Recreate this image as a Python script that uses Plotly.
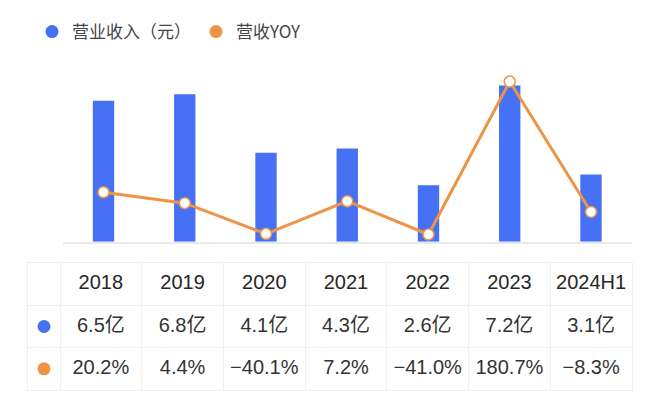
import plotly.graph_objects as go

categories = ["2018", "2019", "2020", "2021", "2022", "2023", "2024H1"]
revenue = [6.5, 6.8, 4.1, 4.3, 2.6, 7.2, 3.1]          # 亿元
yoy = [20.2, 4.4, -40.1, 7.2, -41.0, 180.7, -8.3]        # %
revenue_labels = ["6.5亿", "6.8亿", "4.1亿", "4.3亿", "2.6亿", "7.2亿", "3.1亿"]
yoy_labels = ["20.2%", "4.4%", "−40.1%", "7.2%", "−41.0%", "180.7%", "−8.3%"]
series_names = ["营业收入（元）", "营收YOY"]

BLUE = "#4771F5"
ORANGE = "#EE9447"
TEXT = "#333333"
GRID = "#f0f0f0"
FONT = "Liberation Sans, Noto Sans CJK SC"
CJK = "Noto Sans CJK SC"
OFF = 8                      # page body margin
W, H = 660 - OFF, 410 - OFF


def px_x(v):
    return (v - OFF) / W


def px_y(v):
    return 1 - (v - OFF) / H


fig = go.Figure()

# ---- chart ----
fig.add_trace(go.Bar(
    x=categories, y=revenue, marker=dict(color=BLUE, line=dict(width=0)),
    showlegend=False, xaxis="x", yaxis="y", hoverinfo="skip",
))
fig.add_trace(go.Scatter(
    x=categories, y=yoy, mode="lines+markers", xaxis="x", yaxis="y2",
    line=dict(color=ORANGE, width=3),
    marker=dict(size=11, color="white", line=dict(color=ORANGE, width=1.5)),
    showlegend=False, hoverinfo="skip",
))
# legend entries (circle symbols)
for name, col in zip(series_names, [BLUE, ORANGE]):
    fig.add_trace(go.Scatter(
        x=[None], y=[None], mode="markers", name=name,
        marker=dict(size=13, color=col), showlegend=True,
    ))

# ---- table (drawn on its own axes: columns = category index, rows = 0..2) ----
n = len(categories)
col_idx = list(range(n))
dot_col_w = 32 / 81.7            # narrow first column, in column units
dot_x = -0.5 - dot_col_w / 2

fig.add_trace(go.Scatter(
    x=col_idx, y=[0] * n, text=categories, mode="text", xaxis="x2", yaxis="y3",
    textposition="middle center", textfont=dict(family=FONT, size=20, color="#262626"),
    showlegend=False, hoverinfo="skip",
))
fig.add_trace(go.Scatter(
    x=col_idx, y=[1] * n, text=revenue_labels, mode="text", xaxis="x2", yaxis="y3",
    textposition="middle center", textfont=dict(family=FONT, size=20, color=TEXT),
    showlegend=False, hoverinfo="skip",
))
fig.add_trace(go.Scatter(
    x=col_idx, y=[2] * n, text=yoy_labels, mode="text", xaxis="x2", yaxis="y3",
    textposition="middle center", textfont=dict(family=FONT, size=20, color=TEXT),
    showlegend=False, hoverinfo="skip",
))
fig.add_trace(go.Scatter(
    x=[dot_x, dot_x], y=[1, 2], mode="markers", xaxis="x2", yaxis="y3",
    marker=dict(size=13, color=[BLUE, ORANGE]),
    showlegend=False, hoverinfo="skip",
))

y_top_px = 70
base_px = 241.7
px_per_rev = 21.7
zero2_px = 206.2
px_per_pct = 0.69

fig.update_layout(
    width=W, height=H,
    margin=dict(l=0, r=0, t=0, b=0),
    paper_bgcolor="white", plot_bgcolor="white",
    font=dict(family=FONT, color=TEXT),
    bargap=0.737,
    xaxis=dict(
        domain=[px_x(62.9), px_x(631.6)], type="category",
        range=[-0.5, 6.5], showticklabels=False, showgrid=False,
        showline=True, linecolor="#e9e9e9", linewidth=1.5, zeroline=False,
        ticks="", anchor="y",
    ),
    yaxis=dict(
        domain=[px_y(base_px), px_y(y_top_px)],
        range=[0, (base_px - y_top_px) / px_per_rev],
        visible=False, showgrid=False, zeroline=False,
    ),
    yaxis2=dict(
        overlaying="y", side="right",
        range=[-(base_px - zero2_px) / px_per_pct, (zero2_px - y_top_px) / px_per_pct],
        visible=False, showgrid=False, zeroline=False,
    ),
    xaxis2=dict(
        domain=[px_x(28), px_x(632)], anchor="y3",
        range=[-0.5 - dot_col_w, n - 0.5],
        tickvals=[i - 0.5 for i in range(n)], showticklabels=False, ticks="",
        showgrid=True, gridcolor=GRID, gridwidth=1,
        showline=True, mirror=True, linecolor=GRID, linewidth=1, zeroline=False,
    ),
    yaxis3=dict(
        domain=[px_y(390), px_y(263)], anchor="x2",
        range=[2.5, -0.5],
        tickvals=[0.5, 1.5], showticklabels=False, ticks="",
        showgrid=True, gridcolor=GRID, gridwidth=1,
        showline=True, mirror=True, linecolor=GRID, linewidth=1, zeroline=False,
    ),
    legend=dict(
        orientation="h", x=px_x(32), y=px_y(14), xanchor="left", yanchor="top",
        font=dict(family=CJK, size=17, color="#444444"),
        bgcolor="rgba(0,0,0,0)", itemclick=False,
    ),
)

fig.write_html("out.html")
